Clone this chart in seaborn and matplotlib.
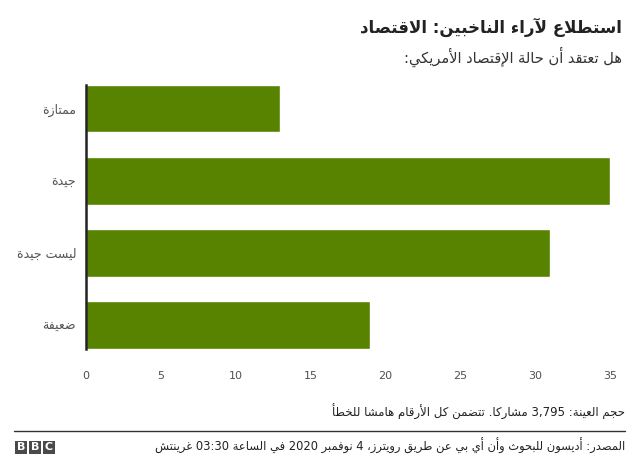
import re
import unicodedata

import matplotlib
matplotlib.use("Agg")
import matplotlib.pyplot as plt
import pandas as pd
import seaborn as sns
from matplotlib.lines import Line2D
from matplotlib.patches import Rectangle

# chart data
categories = ["ممتازة", "جيدة", "ليست جيدة", "ضعيفة"]
values = [13, 35, 31, 19]
x_ticks = [0, 5, 10, 15, 20, 25, 30, 35]

title = "استطلاع لآراء الناخبين: الاقتصاد"
subtitle = "هل تعتقد أن حالة الإقتصاد الأمريكي:"
note = "حجم العينة: 3,795 مشاركا. تتضمن كل الأرقام هامشا للخطأ"
source = "المصدر: أديسون للبحوث وأن أي بي عن طريق رويترز، 4 نوفمبر 2020 في الساعة 03:30 غرينتش"

BAR_COLOR = "#588300"
ALEFS = {"\u0627", "\u0623", "\u0625", "\u0622"}


def _lookup(name):
    try:
        return unicodedata.lookup(name)
    except KeyError:
        return None


def shape(text):
    # matplotlib has no arabic shaping, so pick presentation forms by hand
    units = []
    i = 0
    while i < len(text):
        ch = text[i]
        name = unicodedata.name(ch, "")
        if ch == "\u0644" and i + 1 < len(text) and text[i + 1] in ALEFS:
            rest = unicodedata.name(text[i + 1])[len("ARABIC LETTER "):]
            base = "ARABIC LIGATURE LAM WITH " + rest
            units.append({"iso": _lookup(base + " ISOLATED FORM"),
                          "fin": _lookup(base + " FINAL FORM"),
                          "ini": None, "med": None})
            i += 2
            continue
        if name.startswith("ARABIC LETTER"):
            forms = {"iso": _lookup(name + " ISOLATED FORM") or ch,
                     "fin": _lookup(name + " FINAL FORM"),
                     "ini": _lookup(name + " INITIAL FORM"),
                     "med": _lookup(name + " MEDIAL FORM")}
            units.append(forms)
        else:
            units.append(ch)
        i += 1

    out = []
    for k, u in enumerate(units):
        if isinstance(u, str):
            out.append(u)
            continue
        prev = units[k - 1] if k > 0 else None
        nxt = units[k + 1] if k + 1 < len(units) else None
        join_prev = u["fin"] is not None and isinstance(prev, dict) and prev["ini"] is not None
        join_next = u["ini"] is not None and isinstance(nxt, dict) and nxt["fin"] is not None
        if join_prev and join_next:
            out.append(u["med"] or u["fin"])
        elif join_prev:
            out.append(u["fin"])
        elif join_next:
            out.append(u["ini"])
        else:
            out.append(u["iso"])
    return "".join(out)


def ar(text):
    # shape, then lay out right-to-left keeping number runs in order
    s = shape(text)
    parts = re.findall(r"[0-9A-Za-z](?:[0-9A-Za-z.,:]*[0-9A-Za-z])?|[^0-9A-Za-z]+", s)
    out = []
    for p in reversed(parts):
        if re.match(r"[0-9A-Za-z]", p):
            out.append(p)
        else:
            out.append(p[::-1])
    return "".join(out)


sns.set_style("white")
plt.rcParams["font.family"] = ["DejaVu Sans"]

df = pd.DataFrame({"label": [ar(c) for c in categories], "value": values})

fig = plt.figure(figsize=(6.4, 4.76), dpi=100)
ax = fig.add_axes([0.134, 0.267, 0.819, 0.555])

sns.barplot(data=df, x="value", y="label", orient="h", color=BAR_COLOR,
            saturation=1, width=0.66, ax=ax)

ax.set_xlim(0, 35)
ax.set_ylim(len(values) - 1 + 0.33, -0.33)
ax.set_xticks(x_ticks)
ax.set_xlabel("")
ax.set_ylabel("")
ax.tick_params(axis="x", length=0, labelsize=8, labelcolor="#505050", pad=16)
ax.tick_params(axis="y", length=0, labelsize=9, labelcolor="#555555", pad=7)
for side in ["top", "right", "bottom"]:
    ax.spines[side].set_visible(False)
ax.spines["left"].set_color("#222222")
ax.spines["left"].set_linewidth(1.8)

fig.text(0.972, 0.943, ar(title), ha="right", va="center", fontsize=12,
         fontweight="bold", color="#222222")
fig.text(0.972, 0.88, ar(subtitle), ha="right", va="center", fontsize=10.5,
         color="#333333")
fig.text(0.977, 0.134, ar(note), ha="right", va="center", fontsize=8.5,
         color="#222222")
fig.add_artist(Line2D([0.022, 0.977], [0.094, 0.094], transform=fig.transFigure,
                      color="#333333", lw=1))
fig.text(0.977, 0.064, ar(source), ha="right", va="center", fontsize=8.3,
         color="#222222")

# BBC blocks
bw, bh, gap = 12 / 640, 13 / 476, 2 / 640
x0, y0 = 15 / 640, 0.047
for n, letter in enumerate("BBC"):
    xb = x0 + n * (bw + gap)
    fig.add_artist(Rectangle((xb, y0), bw, bh, transform=fig.transFigure,
                             color="#4a4a4a", lw=0))
    fig.text(xb + bw / 2, y0 + bh / 2, letter, ha="center", va="center",
             fontsize=8, fontweight="bold", color="white")

fig.savefig("out.png", dpi=100)
